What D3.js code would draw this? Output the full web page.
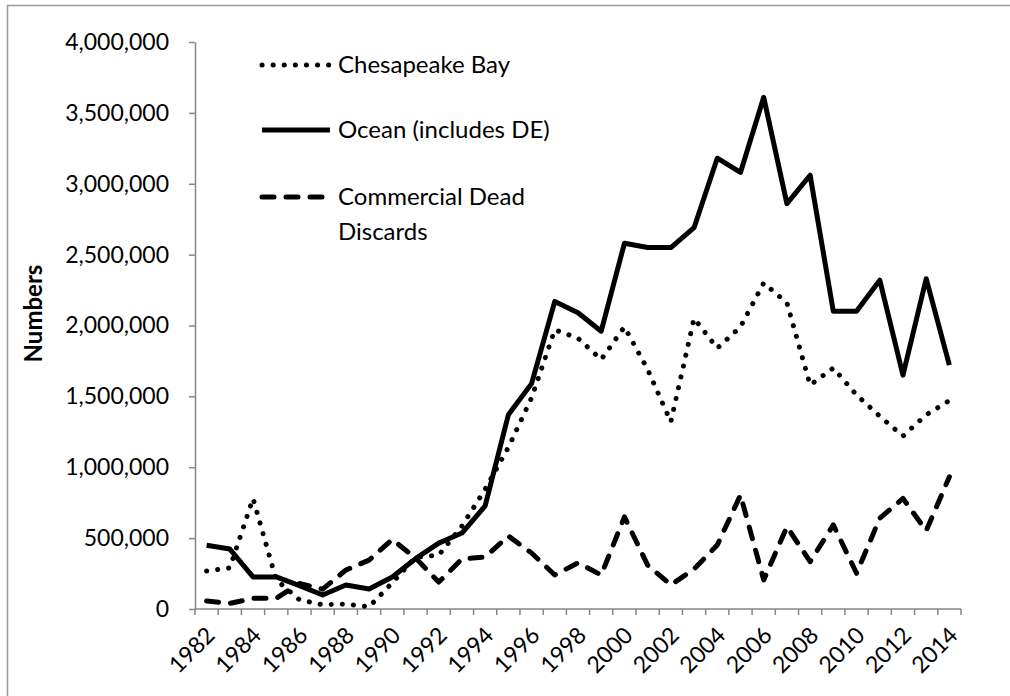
<!DOCTYPE html>
<html>
<head>
<meta charset="utf-8">
<script src="https://cdnjs.cloudflare.com/ajax/libs/d3/7.8.5/d3.min.js"></script>
<style>
  body { margin: 0; background: #fff; }
  text { font-family: Lato, "Open Sans", sans-serif; fill: #000; }
</style>
</head>
<body>
<script>
// data
const years = d3.range(1982, 2015);
const chesapeake = [268000, 290000, 780000, 205000, 65000, 30000, 35000, 15000, 185000, 365000,
                    380000, 585000, 845000, 1140000, 1490000, 1970000, 1910000, 1760000, 1990000, 1690000,
                    1320000, 2050000, 1840000, 1990000, 2300000, 2160000, 1580000, 1700000, 1510000, 1360000,
                    1220000, 1370000, 1470000];
const ocean = [450000, 423000, 226000, 226000, 165000, 99000, 169000, 141000, 226000, 355000,
               465000, 536000, 727000, 1370000, 1590000, 2170000, 2090000, 1960000, 2580000, 2550000,
               2550000, 2690000, 3180000, 3080000, 3610000, 2860000, 3060000, 2100000, 2100000, 2320000,
               1650000, 2330000, 1720000];
const discards = [56000, 40000, 75000, 75000, 180000, 140000, 275000, 345000, 490000, 360000,
                  190000, 353000, 367000, 515000, 395000, 240000, 325000, 240000, 650000, 310000,
                  170000, 282000, 451000, 804000, 205000, 580000, 334000, 593000, 252000, 640000,
                  780000, 552000, 933000];
const yTicks = d3.range(0, 4000001, 500000);
const xLabels = years.filter(y => y % 2 === 0);

const series = [
  {name: ["Chesapeake Bay"], values: chesapeake, dash: "0.1 11"},
  {name: ["Ocean (includes DE)"], values: ocean, dash: null},
  {name: ["Commercial Dead", "Discards"], values: discards, dash: "12 12"}
];

const width = 1010, height = 696;
const plotL = 195, plotR = 961, plotT = 42, plotB = 609;

const svg = d3.select("body").append("svg")
  .attr("width", width)
  .attr("height", height);

svg.append("rect")
  .attr("x", 7.5).attr("y", 5.5)
  .attr("width", width).attr("height", height)
  .attr("fill", "none")
  .attr("stroke", "#999")
  .attr("stroke-width", 1.5);

const x = d3.scalePoint().domain(years).range([plotL, plotR]).padding(0.5);
const y = d3.scaleLinear().domain([0, 4000000]).range([plotB, plotT]);
const step = x.step();

// y axis
const yAxis = svg.append("g")
  .attr("transform", `translate(${plotL},0)`)
  .call(d3.axisLeft(y).tickValues(yTicks).tickFormat(d3.format(","))
        .tickSize(6).tickSizeOuter(0).tickPadding(20));
yAxis.selectAll("path, line").attr("stroke", "#868686").attr("stroke-width", 1.5);
yAxis.selectAll("text").style("font-size", "23px").attr("fill", "#000");

// x axis: ticks between categories
const xg = svg.append("g");
xg.append("line")
  .attr("x1", plotL).attr("x2", plotR)
  .attr("y1", plotB).attr("y2", plotB)
  .attr("stroke", "#868686").attr("stroke-width", 1.5);
const bounds = years.map(d => x(d) - step / 2).concat([plotR]);
xg.selectAll(".tick").data(bounds).join("line")
  .attr("x1", d => d).attr("x2", d => d)
  .attr("y1", plotB).attr("y2", plotB + 6)
  .attr("stroke", "#868686").attr("stroke-width", 1.5);
xg.selectAll(".lab").data(xLabels).join("text")
  .attr("transform", d => `translate(${x(d) + 4},${plotB + 22}) rotate(-45)`)
  .attr("text-anchor", "end")
  .attr("dy", "0.35em")
  .style("font-size", "23px")
  .text(d => d);

// axis title
svg.append("text")
  .attr("transform", `translate(34,${(plotT + plotB) / 2 - 12}) rotate(-90)`)
  .attr("text-anchor", "middle")
  .attr("dy", "0.35em")
  .style("font-size", "24px")
  .style("font-weight", "bold")
  .text("Numbers");

// lines
const line = d3.line()
  .x((d, i) => x(years[i]))
  .y(d => y(d));

svg.append("g").selectAll("path").data(series).join("path")
  .attr("d", d => line(d.values))
  .attr("fill", "none")
  .attr("stroke", "#000")
  .attr("stroke-width", 5)
  .attr("stroke-linecap", d => d.dash ? "round" : "butt")
  .attr("stroke-linejoin", "round")
  .attr("stroke-dasharray", d => d.dash);

// legend
const legendY = [65, 130, 197];
const legend = svg.append("g").selectAll("g").data(series).join("g")
  .attr("transform", (d, i) => `translate(0,${legendY[i]})`);
legend.append("line")
  .attr("x1", 262).attr("x2", 330)
  .attr("stroke", "#000")
  .attr("stroke-width", 5)
  .attr("stroke-linecap", d => d.dash ? "round" : "butt")
  .attr("stroke-dasharray", d => d.dash);
legend.append("text")
  .attr("x", 338)
  .style("font-size", "24px")
  .selectAll("tspan").data(d => d.name).join("tspan")
  .attr("x", 338)
  .attr("dy", (d, i) => i === 0 ? "0.35em" : "1.45em")
  .text(d => d);
</script>
</body>
</html>
